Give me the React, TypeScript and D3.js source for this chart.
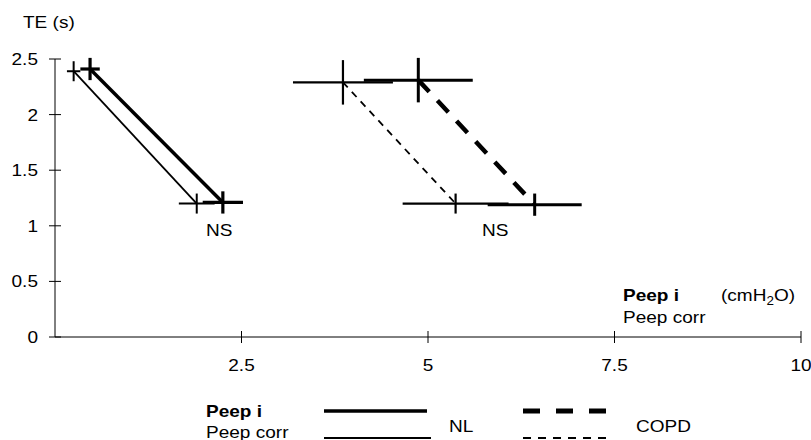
import React from "react";
import * as d3 from "d3";

// TE vs Peep, mean points with error bars (peepErr horizontal, teErr vertical)
const nlPeepI = [
  { peep: 0.47, te: 2.41, peepErr: 0.13, teErr: 0.1 },
  { peep: 2.25, te: 1.21, peepErr: 0.27, teErr: 0.1 },
];
const nlPeepCorr = [
  { peep: 0.25, te: 2.39, peepErr: 0.09, teErr: 0.09 },
  { peep: 1.9, te: 1.2, peepErr: 0.24, teErr: 0.09 },
];
const copdPeepI = [
  { peep: 4.87, te: 2.31, peepErr: 0.73, teErr: 0.2 },
  { peep: 6.43, te: 1.19, peepErr: 0.63, teErr: 0.1 },
];
const copdPeepCorr = [
  { peep: 3.86, te: 2.29, peepErr: 0.67, teErr: 0.2 },
  { peep: 5.37, te: 1.2, peepErr: 0.71, teErr: 0.09 },
];

const yTicks = [0, 0.5, 1, 1.5, 2, 2.5];
const xTicks = [2.5, 5, 7.5, 10];
const nsLabels = [
  { peep: 2.2, te: 1.2, text: "NS" },
  { peep: 5.9, te: 1.2, text: "NS" },
];

const font = "'Liberation Sans', Arial, Helvetica, sans-serif";

// text slightly stretched sideways like the original's font
const T = ({ x, y, anchor = "start", bold = false, children }: any) => (
  <text
    transform={`translate(${x},${y}) scale(1.12,1)`}
    fontSize={17}
    textAnchor={anchor}
    fontWeight={bold ? "bold" : "normal"}
  >
    {children}
  </text>
);

export default function App() {
  const width = 811;
  const height = 440;

  const x = d3.scaleLinear().domain([0, 10]).range([55, 801]);
  const y = d3.scaleLinear().domain([0, 2.5]).range([337, 59]);

  const line = d3
    .line<{ peep: number; te: number }>()
    .x((d) => x(d.peep))
    .y((d) => y(d.te));

  const series = [
    { data: nlPeepCorr, lineW: 1.8, markW: 2, dash: null },
    { data: nlPeepI, lineW: 3.5, markW: 3.2, dash: null },
    { data: copdPeepCorr, lineW: 1.8, markW: 2.2, dash: "7,6" },
    { data: copdPeepI, lineW: 4.5, markW: 3, dash: "16,12" },
  ];

  return (
    <svg
      width={width}
      height={height}
      style={{ position: "absolute", left: 0, top: 0, background: "#fff" }}
      fontFamily={font}
    >
      {/* y axis */}
      <line x1={x(0)} x2={x(0)} y1={y(2.5)} y2={y(0)} stroke="#000" strokeWidth={1} />
      {yTicks.map((t) => (
        <g key={"y" + t}>
          <line x1={x(0) - 6} x2={x(0) + 6} y1={y(t)} y2={y(t)} stroke="#000" strokeWidth={1} />
          <T x={38} y={y(t) + 6} anchor="end">
            {t}
          </T>
        </g>
      ))}
      <T x={23} y={28}>TE (s)</T>

      {/* x axis */}
      <line x1={x(0)} x2={x(10)} y1={y(0)} y2={y(0)} stroke="#000" strokeWidth={1} />
      {xTicks.map((t) => (
        <g key={"x" + t}>
          <line x1={x(t)} x2={x(t)} y1={y(0) - 6} y2={y(0) + 6} stroke="#000" strokeWidth={1} />
          <T x={x(t)} y={371} anchor="middle">
            {t}
          </T>
        </g>
      ))}
      <T x={623} y={301} bold>
        Peep i
      </T>
      <T x={721} y={301}>
        (cmH<tspan fontSize={12} dy={4}>2</tspan>
        <tspan dy={-4}>O)</tspan>
      </T>
      <T x={623} y={323}>Peep corr</T>

      {/* series */}
      {series.map((s, i) => (
        <g key={"s" + i}>
          <path
            d={line(s.data) || ""}
            fill="none"
            stroke="#000"
            strokeWidth={s.lineW}
            strokeDasharray={s.dash || undefined}
          />
          {s.data.map((d, j) => (
            <g key={j} stroke="#000" strokeWidth={s.markW}>
              <line
                x1={x(d.peep - d.peepErr)}
                x2={x(d.peep + d.peepErr)}
                y1={y(d.te)}
                y2={y(d.te)}
              />
              <line
                x1={x(d.peep)}
                x2={x(d.peep)}
                y1={y(d.te - d.teErr)}
                y2={y(d.te + d.teErr)}
              />
            </g>
          ))}
        </g>
      ))}

      {nsLabels.map((n, i) => (
        <T key={"ns" + i} x={x(n.peep)} y={y(n.te) + 32} anchor="middle">
          {n.text}
        </T>
      ))}

      {/* legend */}
      <T x={206} y={417} bold>
        Peep i
      </T>
      <T x={206} y={438}>Peep corr</T>
      <line x1={324} x2={427} y1={411} y2={411} stroke="#000" strokeWidth={3.5} />
      <line x1={324} x2={431} y1={438} y2={438} stroke="#000" strokeWidth={2} />
      <T x={449} y={432}>NL</T>
      <line x1={523} x2={608} y1={411} y2={411} stroke="#000" strokeWidth={5} strokeDasharray="17,16" />
      <line x1={523} x2={608} y1={438} y2={438} stroke="#000" strokeWidth={2} strokeDasharray="8,7" />
      <T x={636} y={432}>COPD</T>
    </svg>
  );
}
